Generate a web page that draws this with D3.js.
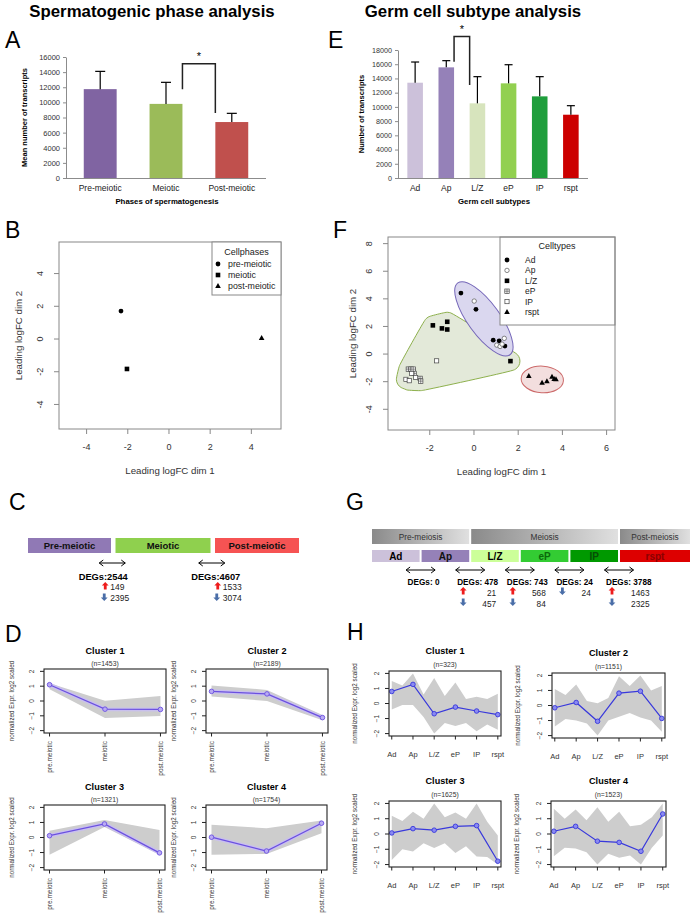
<!DOCTYPE html>
<html>
<head>
<meta charset="utf-8">
<script src="https://cdn.jsdelivr.net/npm/d3@7"></script>
<style>
  body { margin: 0; background: #fff; }
</style>
</head>
<body>
<div id="chart"></div>
<script>
// ---------- data ----------
// A: spermatogenic phases
const phases = ["Pre-meiotic", "Meiotic", "Post-meiotic"];
const phaseMeans = [11750, 9800, 7400];
const phaseSD = [2350, 2850, 1150];
const phaseTicks = [0, 2000, 4000, 6000, 8000, 10000, 12000, 14000, 16000];
const phaseSig = [1, 2, 15100, 11750, 8600];   // from, to, top, left leg end, right leg end

// E: germ cell subtypes
const subtypes = ["Ad", "Ap", "L/Z", "eP", "IP", "rspt"];
const subtypeMeans = [13400, 15560, 10500, 13310, 11480, 8900];
const subtypeSD = [2910, 940, 3750, 2620, 2770, 1270];
const subtypeTicks = [0, 2000, 4000, 6000, 8000, 10000, 12000, 14000, 16000, 18000];
const subtypeSig = [1, 2, 19900, 16350, 13080];

// B: MDS by phase
const mdsPhaseLabels = ["pre-meiotic", "meiotic", "post-meiotic"];
const mdsPhaseX = [-2.33, -2.04, 4.50];
const mdsPhaseY = [1.71, -1.83, 0.06];
const mdsPhaseXTicks = [-4, -2, 0, 2, 4];
const mdsPhaseYTicks = [-4, -2, 0, 2, 4];

// F: MDS by subtype
const mdsAd = [[-0.59, 4.42], [0.09, 3.24], [0.87, 1.01], [1.14, 0.96], [1.40, 0.58]];
const mdsAp = [[0.01, 3.84], [1.37, 1.14], [1.03, 0.65], [1.18, 0.55], [1.27, 0.72]];
const mdsLZ = [[-1.86, 2.08], [-1.45, 1.86], [-1.21, 2.34], [-1.21, 1.78], [1.65, -0.51]];
const mdsEP = [[-2.97, -1.09], [-2.85, -1.09], [-2.75, -1.09], [-2.71, -1.40], [-2.44, -1.76], [-2.41, -1.96]];
const mdsIP = [[-1.69, -0.49], [-3.08, -1.83], [-2.93, -1.93], [-2.82, -1.40], [-2.64, -1.69]];
const mdsRspt = [[2.48, -1.59], [3.08, -2.08], [3.30, -1.96], [3.53, -1.64], [3.63, -1.81], [3.71, -1.83]];
const mdsTypeXTicks = [-2, 0, 2, 4, 6];
const mdsTypeYTicks = [-4, -2, 0, 2, 4, 6, 8];

// C: DEGs between phases
const degPhase = [2544, 4607];
const degPhaseUp = [149, 1533];
const degPhaseDown = [2395, 3074];

// G: DEGs between subtypes
const stagePhases = ["Pre-meiosis", "Meiosis", "Post-meiosis"];
const subtypeStage = [0, 0, 1, 1, 1, 2];
const degType = [0, 478, 743, 24, 3788];
const degTypeUp = [0, 21, 568, 0, 1463];
const degTypeDown = [0, 457, 84, 24, 2325];

// D: clusters over phases
const phaseCats = ["pre.meiotic", "meiotic", "post.meiotic"];
const phaseClusterN = [1453, 2189, 1321, 1754];
const phaseClusterMean = [[1.10, -0.55, -0.57], [0.65, 0.48, -1.12], [0.12, 0.90, -1.02], [0.02, -0.90, 0.95]];
const phaseClusterHi = [[1.20, 0.02, 0.33], [1.05, 0.75, -0.95], [0.45, 1.17, 0.50], [0.85, 0.62, 1.13]];
const phaseClusterLo = [[0.80, -1.15, -1.02], [0.30, 0.00, -1.30], [-1.15, 0.69, -1.15], [-1.15, -1.09, 0.29]];

// H: clusters over subtypes
const typeClusterN = [323, 1151, 1625, 1523];
const typeClusterMean = [
  [0.80, 1.27, -0.68, -0.24, -0.50, -0.74],
  [-0.15, 0.20, -1.05, 0.82, 0.95, -0.86],
  [0.07, 0.35, 0.25, 0.50, 0.55, -1.78],
  [0.18, 0.50, -0.47, -0.55, -1.13, 1.31]
];
const typeClusterHi = [
  [1.5, 2.0, 1.7, 1.4, 0.45, 0.65],
  [1.1, 1.4, 0.15, 1.95, 2.0, 1.3],
  [1.2, 1.45, 2.0, 1.4, 2.0, -0.1],
  [1.65, 1.6, 1.75, 1.45, 0.6, 2.0]
];
const typeClusterHiMid = [
  [1.2, 0.6, 0.5, 0.3, 0.3],
  [0.7, 0.3, 0.5, 1.3, 1.0],
  [0.85, 1.0, 1.1, 1.0, 0.8],
  [1.0, 0.9, 0.8, 0.5, 1.1]
];
const typeClusterLo = [
  [-0.4, -0.1, -2.0, -1.5, -1.85, -1.75],
  [-1.4, -1.0, -2.0, -0.75, -0.8, -1.75],
  [-1.7, -1.15, -0.92, -1.25, -1.47, -2.0],
  [-1.45, -0.95, -2.0, -1.55, -2.0, -0.1]
];
const typeClusterLoMid = [
  [-0.1, -0.9, -1.3, -1.3, -1.4],
  [-0.9, -1.2, -1.0, -0.5, -1.0],
  [-1.0, -0.6, -0.6, -0.8, -1.5],
  [-0.9, -1.2, -1.3, -1.4, -0.9]
];
const clusterYTicks = [-2, -1, 0, 1, 2];

// ---------- setup ----------
const FONT = "'Liberation Sans', Arial, Helvetica, sans-serif";
const svg = d3.select("#chart").append("svg")
  .attr("width", 694)
  .attr("height", 917)
  .style("font-family", FONT);

function txt(g, x, y, s, size, opts) {
  opts = opts || {};
  const t = g.append("text")
    .attr("x", x).attr("y", y)
    .attr("font-size", size)
    .attr("fill", opts.fill || "#000")
    .attr("text-anchor", opts.anchor || "start")
    .text(s);
  if (opts.bold) t.attr("font-weight", "bold");
  if (opts.rotate) t.attr("transform", `rotate(${opts.rotate},${x},${y})`);
  if (opts.dy) t.attr("dy", opts.dy);
  return t;
}

// Headings and panel letters
txt(svg, 152, 17, "Spermatogenic phase analysis", 16.8, { bold: true, anchor: "middle" });
txt(svg, 473, 17, "Germ cell subtype analysis", 16.8, { bold: true, anchor: "middle" });
[["A", 5, 48], ["E", 328, 48], ["B", 5, 238], ["F", 333, 238],
 ["C", 9, 510], ["G", 346, 510], ["D", 5, 642], ["H", 347, 640]]
  .forEach(d => txt(svg, d[1], d[2], d[0], 23));

// ---------- bar panels (A, E) ----------
function barPanel(o) {
  const g = svg.append("g");
  const x = d3.scaleBand().domain(o.cats).range([o.x0, o.x1])
    .paddingInner(0.5).paddingOuter(o.po);
  const y = d3.scaleLinear().domain([0, d3.max(o.ticks)]).range([o.y1, o.y0]);

  const ax = g.append("g")
    .attr("transform", `translate(${o.x0},0)`)
    .attr("font-family", FONT)
    .attr("color", "#8c8c8c")
    .call(d3.axisLeft(y).tickValues(o.ticks).tickFormat(d3.format("d"))
      .tickSize(3).tickSizeOuter(0).tickPadding(3));
  ax.selectAll(".tick text").attr("font-size", o.tickFont).attr("fill", "#333");

  g.selectAll("rect.bar").data(o.means).join("rect")
    .attr("class", "bar")
    .attr("x", (d, i) => x(o.cats[i]))
    .attr("y", d => y(d))
    .attr("width", x.bandwidth())
    .attr("height", d => o.y1 - y(d))
    .attr("fill", (d, i) => o.colors[i]);

  // error bars
  o.means.forEach((m, i) => {
    const cx = x(o.cats[i]) + x.bandwidth() / 2;
    g.append("line").attr("x1", cx).attr("x2", cx)
      .attr("y1", y(m)).attr("y2", y(m + o.sd[i]))
      .attr("stroke", "#000").attr("stroke-width", 1.2);
    g.append("line").attr("x1", cx - o.cap / 2).attr("x2", cx + o.cap / 2)
      .attr("y1", y(m + o.sd[i])).attr("y2", y(m + o.sd[i]))
      .attr("stroke", "#000").attr("stroke-width", 1.2);
  });

  g.append("line").attr("x1", o.x0).attr("x2", o.x1)
    .attr("y1", o.y1 + 0.5).attr("y2", o.y1 + 0.5)
    .attr("stroke", "#8c8c8c");

  o.cats.forEach(c => txt(g, x(c) + x.bandwidth() / 2, o.y1 + 13, c, 8.5, { anchor: "middle", fill: "#222" }));

  // significance bracket
  const [from, to, top, left, right] = o.sig;
  const lx = x(o.cats[from]) + x.bandwidth(), rx = x(o.cats[to]);
  g.append("path")
    .attr("d", `M${lx},${y(left)}V${y(top)}H${rx}V${y(right)}`)
    .attr("fill", "none").attr("stroke", "#222").attr("stroke-width", 1.5);
  txt(g, (lx + rx) / 2, y(top) - 3.5, "*", 11, { anchor: "middle" });

  txt(g, o.yTitleX, (o.y0 + o.y1) / 2, o.yTitle, 7.5, { bold: true, anchor: "middle", rotate: -90 });
  txt(g, o.xTitleX, o.y1 + 26, o.xTitle, 7.8, { bold: true, anchor: "middle" });
}

barPanel({
  cats: phases, means: phaseMeans, sd: phaseSD, ticks: phaseTicks, sig: phaseSig,
  colors: ["#8064a2", "#9bbb59", "#c0504d"],
  x0: 66, x1: 266, y0: 57, y1: 178, po: 0.27, cap: 10, tickFont: 7.5,
  yTitle: "Mean number of transcripts", yTitleX: 27,
  xTitle: "Phases of spermatogenesis", xTitleX: 167
});

barPanel({
  cats: subtypes, means: subtypeMeans, sd: subtypeSD, ticks: subtypeTicks, sig: subtypeSig,
  colors: ["#ccc1da", "#9581b8", "#d7e4bd", "#92d050", "#1f9e3c", "#cc0000"],
  x0: 398, x1: 588, y0: 50, y1: 178, po: 0.3, cap: 8, tickFont: 7.2,
  yTitle: "Number of transcripts", yTitleX: 364,
  xTitle: "Germ cell subtypes", xTitleX: 494
});

// ---------- scatter symbols ----------
function sym(g, shape, px, py) {
  if (shape === "dot") {
    g.append("circle").attr("cx", px).attr("cy", py).attr("r", 2.4).attr("fill", "#000");
  } else if (shape === "ring") {
    g.append("circle").attr("cx", px).attr("cy", py).attr("r", 2.2)
      .attr("fill", "#fff").attr("stroke", "#555").attr("stroke-width", 0.7);
  } else if (shape === "sq") {
    g.append("rect").attr("x", px - 2.3).attr("y", py - 2.3).attr("width", 4.6).attr("height", 4.6).attr("fill", "#000");
  } else if (shape === "osq") {
    g.append("rect").attr("x", px - 2.1).attr("y", py - 2.1).attr("width", 4.2).attr("height", 4.2)
      .attr("fill", "#fff").attr("stroke", "#444").attr("stroke-width", 0.7);
  } else if (shape === "gsq") {
    g.append("rect").attr("x", px - 2.2).attr("y", py - 2.2).attr("width", 4.4).attr("height", 4.4)
      .attr("fill", "#fff").attr("stroke", "#444").attr("stroke-width", 0.7);
    g.append("path").attr("d", `M${px - 2.2},${py}H${px + 2.2}M${px},${py - 2.2}V${py + 2.2}`)
      .attr("stroke", "#444").attr("stroke-width", 0.6);
  } else if (shape === "tri") {
    g.append("path").attr("d", `M${px},${py - 3}L${px + 2.8},${py + 2}L${px - 2.8},${py + 2}Z`).attr("fill", "#000");
  }
}

// ---------- MDS frame ----------
function mdsFrame(o) {
  const g = svg.append("g");
  const x = d3.scaleLinear().domain(o.xDom).range([o.x0, o.x1]);
  const y = d3.scaleLinear().domain(o.yDom).range([o.y1, o.y0]);
  const axc = "#888";
  o.xTicks.forEach(t => {
    g.append("line").attr("x1", x(t)).attr("x2", x(t)).attr("y1", o.y1).attr("y2", o.y1 + 5).attr("stroke", axc);
    txt(g, x(t), o.y1 + 21, t < 0 ? "-" + Math.abs(t) : String(t), 9, { anchor: "middle", fill: "#333" });
  });
  o.yTicks.forEach(t => {
    g.append("line").attr("x1", o.x0 - 5).attr("x2", o.x0).attr("y1", y(t)).attr("y2", y(t)).attr("stroke", axc);
    txt(g, o.x0 - 19, y(t), t < 0 ? "-" + Math.abs(t) : String(t), 9, { anchor: "middle", fill: "#333", rotate: -90, dy: "0.35em" });
  });
  txt(g, (o.x0 + o.x1) / 2, o.y1 + 45, "Leading logFC dim 1", 9.7, { anchor: "middle", fill: "#333" });
  txt(g, o.yTitleX, (o.y0 + o.y1) / 2, "Leading logFC dim 2", 9.7, { anchor: "middle", fill: "#333", rotate: -90, dy: "0.35em" });
  return { g, x, y, box: () => g.append("rect").attr("x", o.x0).attr("y", o.y0)
    .attr("width", o.x1 - o.x0).attr("height", o.y1 - o.y0)
    .attr("fill", "none").attr("stroke", axc) };
}

// B
(function () {
  const f = mdsFrame({ x0: 59, x1: 281, y0: 242, y1: 429, xDom: [-5.34, 5.44], yDom: [-5.5, 5.93],
    xTicks: mdsPhaseXTicks, yTicks: mdsPhaseYTicks, yTitleX: 19 });
  f.box();
  const shapes = ["dot", "sq", "tri"];
  mdsPhaseX.forEach((v, i) => sym(f.g, shapes[i], f.x(v), f.y(mdsPhaseY[i])));
  // legend
  f.g.append("rect").attr("x", 212).attr("y", 242).attr("width", 69).attr("height", 53)
    .attr("fill", "#fff").attr("stroke", "#888");
  txt(f.g, 246.5, 255, "Cellphases", 9, { anchor: "middle", fill: "#222" });
  mdsPhaseLabels.forEach((l, i) => {
    const ly = 264 + i * 11;
    sym(f.g, shapes[i], 218, ly);
    txt(f.g, 228, ly + 3.2, l, 8.8, { fill: "#222" });
  });
})();

// F
(function () {
  const f = mdsFrame({ x0: 388, x1: 615, y0: 237, y1: 430, xDom: [-3.89, 6.38], yDom: [-5.5, 8.48],
    xTicks: mdsTypeXTicks, yTicks: mdsTypeYTicks, yTitleX: 353 });
  const P = pts => pts.map(p => [f.x(p[0]), f.y(p[1])]);

  // padded hull (green)
  function paddedHull(pts, r) {
    const ring = [];
    pts.forEach(p => {
      for (let k = 0; k < 24; k++) {
        const a = k / 24 * 2 * Math.PI;
        ring.push([p[0] + r * Math.cos(a), p[1] + r * Math.sin(a)]);
      }
    });
    return d3.polygonHull(ring);
  }
  // principal-axis ellipse
  function fitEllipse(pts, padA, padB) {
    const mx = d3.mean(pts, p => p[0]), my = d3.mean(pts, p => p[1]);
    let sxx = 0, syy = 0, sxy = 0;
    pts.forEach(p => {
      const dx = p[0] - mx, dy = p[1] - my;
      sxx += dx * dx; syy += dy * dy; sxy += dx * dy;
    });
    const ang = 0.5 * Math.atan2(2 * sxy, sxx - syy);
    const c = Math.cos(ang), s = Math.sin(ang);
    const u = pts.map(p => (p[0] - mx) * c + (p[1] - my) * s);
    const v = pts.map(p => -(p[0] - mx) * s + (p[1] - my) * c);
    const [u0, u1] = d3.extent(u), [v0, v1] = d3.extent(v);
    const cu = (u0 + u1) / 2, cv = (v0 + v1) / 2;
    return { cx: mx + cu * c - cv * s, cy: my + cu * s + cv * c,
      rx: (u1 - u0) / 2 + padA, ry: (v1 - v0) / 2 + padB, deg: ang * 180 / Math.PI };
  }
  function drawEllipse(e, fill, stroke) {
    f.g.append("ellipse").attr("cx", e.cx).attr("cy", e.cy).attr("rx", e.rx).attr("ry", e.ry)
      .attr("transform", `rotate(${e.deg},${e.cx},${e.cy})`)
      .attr("fill", fill).attr("stroke", stroke).attr("stroke-width", 1);
  }

  const hull = paddedHull(P(mdsLZ.concat(mdsEP, mdsIP)), 9.5);
  f.g.append("path").attr("d", d3.line().curve(d3.curveCatmullRomClosed)(hull))
    .attr("fill", "#e3e9d9").attr("stroke", "#8db04c").attr("stroke-width", 1);
  drawEllipse(fitEllipse(P(mdsAd.concat(mdsAp)), 10, 11), "#dad7ef", "#7466b8");
  drawEllipse(fitEllipse(P(mdsRspt), 7.5, 10), "#f3dede", "#cc6a6a");

  // legend box (top right)
  f.g.append("rect").attr("x", 500).attr("y", 237).attr("width", 115).attr("height", 88)
    .attr("fill", "#fff").attr("stroke", "#888");
  f.box();

  const groups = [mdsAd, mdsAp, mdsLZ, mdsEP, mdsIP, mdsRspt];
  const shapes = ["dot", "ring", "sq", "gsq", "osq", "tri"];
  [3, 4, 2, 0, 1, 5].forEach(gi => P(groups[gi]).forEach(p => sym(f.g, shapes[gi], p[0], p[1])));

  txt(f.g, 557, 249, "Celltypes", 9, { anchor: "middle", fill: "#222" });
  subtypes.forEach((l, i) => {
    const ly = 260 + i * 10.4;
    sym(f.g, shapes[i], 507, ly);
    txt(f.g, 525, ly + 3, l, 8.5, { fill: "#222" });
  });
})();

// ---------- arrows ----------
function dblArrow(g, cx, cy, w) {
  const a = cx - w / 2, b = cx + w / 2;
  g.append("path")
    .attr("d", `M${a},${cy}H${b}M${a + 4},${cy - 3}L${a},${cy}L${a + 4},${cy + 3}M${b - 4},${cy - 3}L${b},${cy}L${b - 4},${cy + 3}`)
    .attr("fill", "none").attr("stroke", "#000").attr("stroke-width", 1);
}
function blockArrow(g, cx, cy, up) {
  const k = up ? 1 : -1;
  const pts = [[0, -4], [3.4, -0.4], [1.4, -0.4], [1.4, 3.6], [-1.4, 3.6], [-1.4, -0.4], [-3.4, -0.4]]
    .map(p => [cx + p[0], cy + k * p[1]]);
  g.append("polygon").attr("points", pts.map(p => p.join(",")).join(" "))
    .attr("fill", up ? "#ee1c1c" : "#4a6ea8");
}

// C
(function () {
  const g = svg.append("g");
  const boxW = [83, 95, 84], gap = 4.5, bx0 = 28, by = 538, bh = 15;
  const labelShift = [-10, 3];
  const colors = ["#9079b5", "#8fd04e", "#f65353"];
  const lefts = [];
  let cur = bx0;
  boxW.forEach(w => { lefts.push(cur); cur += w + gap; });
  phases.forEach((p, i) => {
    g.append("rect").attr("x", lefts[i]).attr("y", by).attr("width", boxW[i]).attr("height", bh).attr("fill", colors[i]);
    txt(g, lefts[i] + boxW[i] / 2, by + 11, p, 9.5, { bold: true, anchor: "middle", fill: "#111" });
  });
  degPhase.forEach((d, i) => {
    const bnd = lefts[i + 1] - gap / 2;
    dblArrow(g, bnd - 1, 563, 26);
    const lc = bnd + labelShift[i];
    txt(g, lc, 579.5, "DEGs:" + d, 9.3, { bold: true, anchor: "middle" });
    blockArrow(g, lc + 2, 586, true);
    txt(g, lc + 7, 589.5, String(degPhaseUp[i]), 8.5, { fill: "#222" });
    blockArrow(g, lc + 1, 597, false);
    txt(g, lc + 7, 600.5, String(degPhaseDown[i]), 8.5, { fill: "#222" });
  });
})();

// G
(function () {
  const g = svg.append("g");
  const defs = svg.append("defs");
  const grad = defs.append("linearGradient").attr("id", "hdr").attr("x1", 0).attr("x2", 1).attr("y1", 0).attr("y2", 0);
  grad.append("stop").attr("offset", 0).attr("stop-color", "#8a8a8a");
  grad.append("stop").attr("offset", 1).attr("stop-color", "#e0e0e0");

  const sx = d3.scaleLinear().domain([0, 5]).range([372, 620]);
  const right = 690, gap = 2;
  const boxL = i => sx(i);
  const boxR = i => (i === subtypes.length - 1 ? right : sx(i + 1) - gap);
  const colors = ["#ccc1da", "#9581b8", "#ccff99", "#33cc33", "#009900", "#dd0000"];
  const tcolors = ["#000", "#111", "#000", "#0a6a0a", "#064d06", "#8a0000"];

  stagePhases.forEach((p, si) => {
    const idx = subtypes.map((s, i) => i).filter(i => subtypeStage[i] === si);
    const l = boxL(idx[0]), r = boxR(idx[idx.length - 1]);
    g.append("rect").attr("x", l).attr("y", 529).attr("width", r - l).attr("height", 15).attr("fill", "url(#hdr)");
    txt(g, (l + r) / 2, 540, p, 8.3, { anchor: "middle", fill: "#333" });
  });
  subtypes.forEach((s, i) => {
    g.append("rect").attr("x", boxL(i)).attr("y", 550).attr("width", boxR(i) - boxL(i)).attr("height", 12).attr("fill", colors[i]);
    txt(g, (boxL(i) + boxR(i)) / 2, 559.7, s, 10, { bold: true, anchor: "middle", fill: tcolors[i] });
  });

  degType.forEach((d, i) => {
    const c = boxR(i) + gap / 2;
    dblArrow(g, c, 570, 29);
    const lab = txt(g, c - 13, 584.5, "DEGs: " + d, 8.2, { bold: true });
    const len = lab.node().getComputedTextLength();
    const rows = [];
    if (degTypeUp[i] > 0) rows.push([true, degTypeUp[i]]);
    if (degTypeDown[i] > 0) rows.push([false, degTypeDown[i]]);
    rows.forEach((r, k) => {
      blockArrow(g, c - 13 + 6, 591 + k * 11, r[0]);
      txt(g, c - 13 + len - 2, 595.5 + k * 11, String(r[1]), 8.3, { anchor: "end", fill: "#222" });
    });
  });
})();

// ---------- cluster profile panels (D, H) ----------
function clusterPanel(o) {
  const g = svg.append("g");
  const n = o.cats.length;
  const x = d3.scaleLinear().domain(o.xDom).range([o.x0, o.x0 + o.w]);
  const y = d3.scaleLinear().domain([-2.16, 2.16]).range([o.y0 + o.h, o.y0]);
  const yb = o.y0 + o.h;

  const up = [], dn = [];
  o.hi.forEach((v, i) => { up.push([i + 1, v]); if (o.hiMid && i < n - 1) up.push([i + 1.5, o.hiMid[i]]); });
  o.lo.forEach((v, i) => { dn.push([i + 1, v]); if (o.loMid && i < n - 1) dn.push([i + 1.5, o.loMid[i]]); });
  const line = d3.line().x(d => x(d[0])).y(d => y(d[1]));
  g.append("path").attr("d", line(up.concat(dn.reverse())) + "Z").attr("fill", "#cdcdcd");

  const mean = o.mean.map((v, i) => [i + 1, v]);
  if (o.halo) g.append("path").attr("d", line(mean)).attr("fill", "none")
    .attr("stroke", o.halo).attr("stroke-width", 4).attr("opacity", 0.8);
  g.append("path").attr("d", line(mean)).attr("fill", "none").attr("stroke", o.color).attr("stroke-width", 1.2);
  g.selectAll("circle.m").data(mean).join("circle").attr("class", "m")
    .attr("cx", d => x(d[0])).attr("cy", d => y(d[1])).attr("r", 2.3)
    .attr("fill", o.markerFill).attr("stroke", o.color).attr("stroke-width", 0.9);

  g.append("rect").attr("x", o.x0).attr("y", o.y0).attr("width", o.w).attr("height", o.h)
    .attr("fill", "none").attr("stroke", "#222").attr("stroke-width", 1.1);

  clusterYTicks.forEach(t => {
    g.append("line").attr("x1", o.x0 - 4).attr("x2", o.x0).attr("y1", y(t)).attr("y2", y(t)).attr("stroke", "#222");
    txt(g, o.x0 - 12.5, y(t), t < 0 ? "\u2212" + Math.abs(t) : String(t), 6.5, { anchor: "middle", rotate: -90, dy: "0.35em", fill: "#333" });
  });
  o.cats.forEach((c, i) => {
    const cx = x(i + 1);
    g.append("line").attr("x1", cx).attr("x2", cx).attr("y1", yb).attr("y2", yb + 3.5).attr("stroke", "#222");
    if (o.vertLabels) txt(g, cx, yb + 8, c, 6.5, { anchor: "end", rotate: -90, dy: "0.35em", fill: "#333" });
    else txt(g, cx, yb + 20.5, c, 7.5, { anchor: "middle", fill: "#333" });
  });

  const cxm = o.x0 + o.w / 2;
  txt(g, cxm, o.y0 - o.titleOff, o.title, 9.1, { bold: true, anchor: "middle" });
  txt(g, cxm, o.y0 - o.nOff, "(n=" + o.n + ")", 6.8, { anchor: "middle", fill: "#333" });
  txt(g, o.x0 - o.yTitleOff, o.y0 + o.h / 2, "normalized Expr. log2 scaled", 6.3, { anchor: "middle", rotate: -90, dy: "0.35em", fill: "#333" });
}

const dBoxes = [[44, 669, 122, 64], [206, 669, 122, 64], [44, 805, 121, 65], [206, 805, 121, 65]];
phaseClusterMean.forEach((m, i) => clusterPanel({
  cats: phaseCats, xDom: [0.9, 3.1],
  x0: dBoxes[i][0], y0: dBoxes[i][1], w: dBoxes[i][2], h: dBoxes[i][3],
  mean: m, hi: phaseClusterHi[i], lo: phaseClusterLo[i],
  color: "#6a4fe0", halo: "#c8bdf5", markerFill: "#b9abf3",
  title: "Cluster " + (i + 1), n: phaseClusterN[i], titleOff: 14.7, nOff: 2.6,
  vertLabels: true, yTitleOff: 32
}));

const hBoxes = [[389, 671, 112, 65], [552, 673, 113, 65], [389, 801, 112, 66], [551, 801, 115, 66]];
typeClusterMean.forEach((m, i) => clusterPanel({
  cats: subtypes, xDom: [0.87, 6.15],
  x0: hBoxes[i][0], y0: hBoxes[i][1], w: hBoxes[i][2], h: hBoxes[i][3],
  mean: m, hi: typeClusterHi[i], lo: typeClusterLo[i],
  hiMid: typeClusterHiMid[i], loMid: typeClusterLoMid[i],
  color: "#3838dc", markerFill: "#8a8af0",
  title: "Cluster " + (i + 1), n: typeClusterN[i], titleOff: 17.5, nOff: 4,
  vertLabels: false, yTitleOff: 34
}));
</script>
</body>
</html>
